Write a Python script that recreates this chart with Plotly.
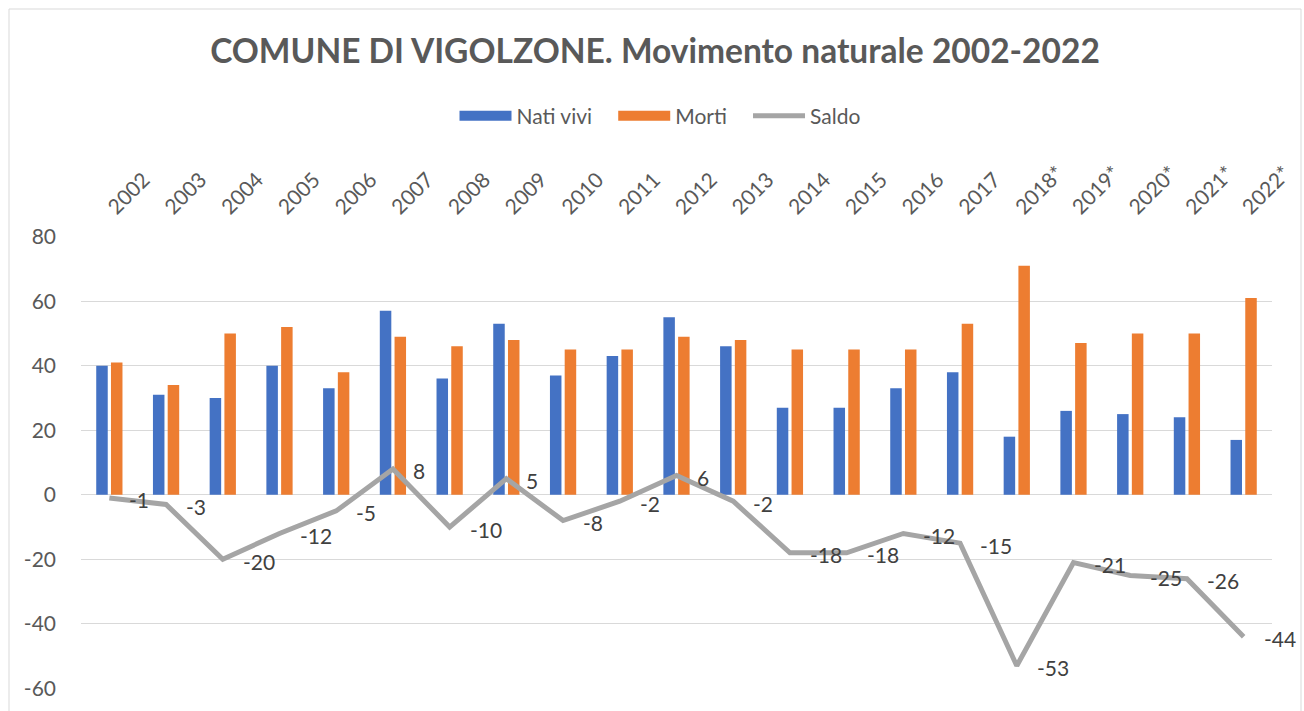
import plotly.graph_objects as go

years = ["2002", "2003", "2004", "2005", "2006", "2007", "2008", "2009", "2010", "2011",
         "2012", "2013", "2014", "2015", "2016", "2017", "2018*", "2019*", "2020*", "2021*", "2022*"]
nati_vivi = [40, 31, 30, 40, 33, 57, 36, 53, 37, 43, 55, 46, 27, 27, 33, 38, 18, 26, 25, 24, 17]
morti = [41, 34, 50, 52, 38, 49, 46, 48, 45, 45, 49, 48, 45, 45, 45, 53, 71, 47, 50, 50, 61]
saldo = [-1, -3, -20, -12, -5, 8, -10, 5, -8, -2, 6, -2, -18, -18, -12, -15, -53, -21, -25, -26, -44]
y_tick_vals = [-60, -40, -20, 0, 20, 40, 60, 80]
y_tick_text = ["-60", "-40", "-20", "0", "20", "40", "60", "80"]

BLUE = "#4472c4"
ORANGE = "#ed7d31"
GRAY = "#a5a5a5"
TXT = "#595959"
FONT = "Lato"

fig = go.Figure()
fig.add_trace(go.Bar(x=years, y=nati_vivi, name="Nati vivi", marker_color=BLUE,
                     marker_line_width=0, showlegend=False))
fig.add_trace(go.Bar(x=years, y=morti, name="Morti", marker_color=ORANGE,
                     marker_line_width=0, showlegend=False))
fig.add_trace(go.Scatter(x=years, y=saldo, name="Saldo", mode="lines",
                         line=dict(color=GRAY, width=5), showlegend=False))

# legend entries (Excel-style wide swatches)
SP = "&nbsp;" * 3
for nm, col, w in [("Nati vivi" + SP, BLUE, 14), ("Morti" + SP, ORANGE, 14), ("Saldo", GRAY, 5)]:
    fig.add_trace(go.Scatter(x=[years[0]], y=[None], name=nm, mode="lines",
                             line=dict(color=col, width=w), showlegend=True))

for i, v in enumerate(saldo):
    fig.add_annotation(x=i, y=v, text=str(v), showarrow=False, xanchor="left",
                       yanchor="middle", xshift=18, yshift=-2,
                       font=dict(family=FONT, size=21, color="#404040"))

L, R, T, B = 81, 32, 236, 22
W, H = 1304, 711
pw, ph = W - L - R, H - T - B
fig.add_shape(type="rect", xref="paper", yref="paper",
              x0=(9 - L) / pw, x1=(1301 - L) / pw,
              y0=(H - B - 720) / ph, y1=(H - B - 9) / ph,
              line=dict(color="#d9d9d9", width=1), fillcolor="rgba(0,0,0,0)", layer="below")

fig.update_layout(
    width=W, height=H,
    margin=dict(l=L, r=R, t=T, b=B),
    paper_bgcolor="white", plot_bgcolor="white",
    barmode="group", bargap=0.48, bargroupgap=0.22,
    font=dict(family=FONT, color=TXT, size=21),
    title=dict(text="<b>COMUNE DI VIGOLZONE. Movimento naturale 2002-2022</b>",
               x=655 / W, xref="container", xanchor="center",
               y=1 - 51 / H, yref="container", yanchor="middle",
               font=dict(family=FONT, size=33.5, color=TXT)),
    legend=dict(orientation="h", x=(660 - L) / pw, xanchor="center",
                y=(H - B - 116) / ph, yanchor="middle",
                font=dict(family=FONT, size=21, color=TXT),
                itemwidth=52, bgcolor="rgba(0,0,0,0)", traceorder="normal"),
    xaxis=dict(type="category", side="top", tickangle=-45, showgrid=False, showline=False,
               range=[-0.5, len(years) - 0.5], automargin=False,
               ticks="", tickfont=dict(family=FONT, size=21, color=TXT), ticklabelstandoff=12),
    yaxis=dict(range=[-60.2, 80.2], tickmode="array", tickvals=y_tick_vals, ticktext=y_tick_text,
               showgrid=True, gridcolor="#d9d9d9", gridwidth=1.3,
               zeroline=False, showline=False, ticks="", automargin=False,
               tickfont=dict(family=FONT, size=21, color=TXT), ticklabelstandoff=24),
)

fig.write_html("out.html", config={"displayModeBar": False},
               post_script="document.body.style.margin='0px';")
